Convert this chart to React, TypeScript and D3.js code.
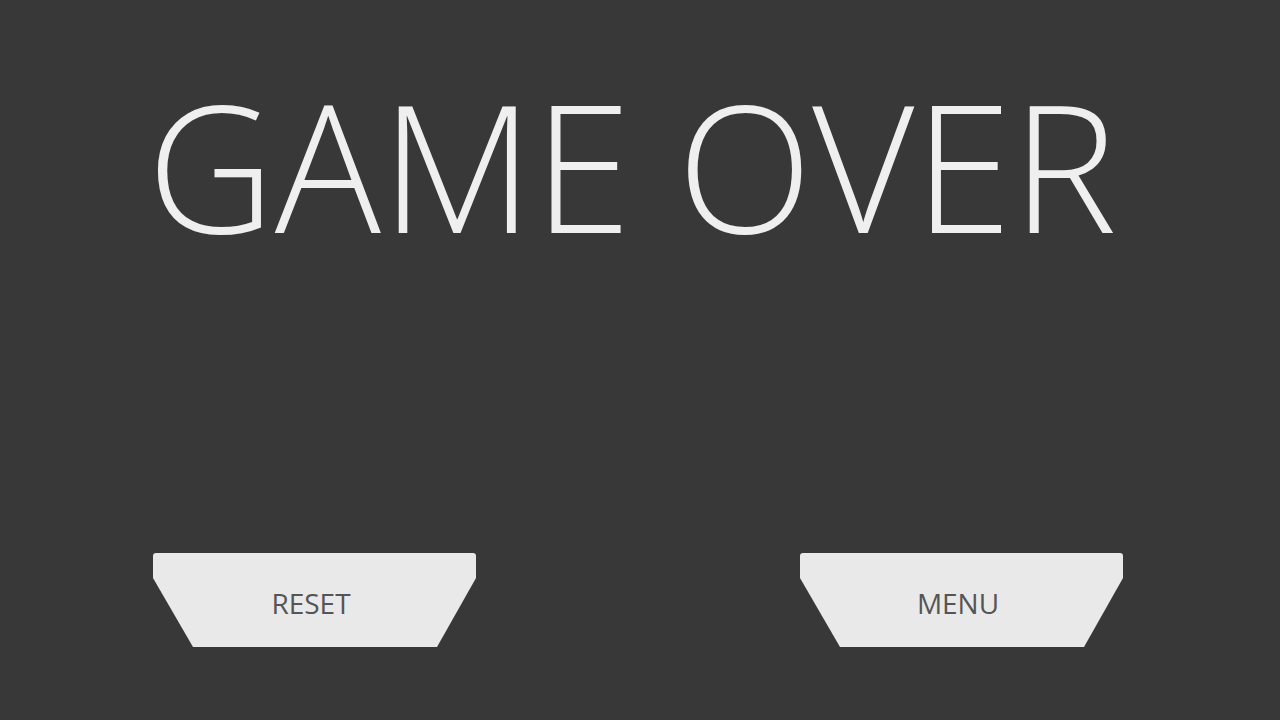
import * as React from 'react';
import * as d3 from 'd3';

const title = 'GAME OVER';
const buttonLabels = ['RESET', 'MENU'];
const buttonLefts = [153, 800];

const W = 1280;
const H = 720;

export default function App() {
  const ref = React.useRef<SVGSVGElement>(null);

  React.useEffect(() => {
    const svg = d3.select(ref.current);
    svg.selectAll('*').remove();
    svg.append('rect').attr('width', W).attr('height', H).attr('fill', '#383838');

    svg
      .append('text')
      .attr('x', 147)
      .attr('y', 233)
      .attr('textLength', 970)
      .attr('lengthAdjust', 'spacingAndGlyphs')
      .attr('font-family', 'Open Sans')
      .attr('font-weight', 300)
      .attr('font-size', 178)
      .attr('fill', '#efefef')
      .text(title);

    const bw = 323;
    const shape = (x: number) => {
      const p = d3.path();
      p.moveTo(x + 3, 553);
      p.lineTo(x + bw - 3, 553);
      p.quadraticCurveTo(x + bw, 553, x + bw, 556);
      p.lineTo(x + bw, 578);
      p.lineTo(x + bw - 39, 647);
      p.lineTo(x + 40, 647);
      p.lineTo(x, 578);
      p.lineTo(x, 556);
      p.quadraticCurveTo(x, 553, x + 3, 553);
      p.closePath();
      return p.toString();
    };

    const g = svg
      .selectAll('g.btn')
      .data(buttonLabels)
      .enter()
      .append('g')
      .attr('class', 'btn');
    g.append('path')
      .attr('d', (_, i) => shape(buttonLefts[i]))
      .attr('fill', '#e9e9e9');
    g.append('text')
      .attr('x', (_, i) => buttonLefts[i] + 158)
      .attr('y', 614)
      .attr('text-anchor', 'middle')
      .attr('font-family', 'Open Sans')
      .attr('font-size', 28)
      .attr('fill', '#555')
      .text(d => d);
  }, []);

  return (
    <svg
      ref={ref}
      width={W}
      height={H}
      style={{ position: 'fixed', left: 0, top: 0, display: 'block' }}
    />
  );
}
